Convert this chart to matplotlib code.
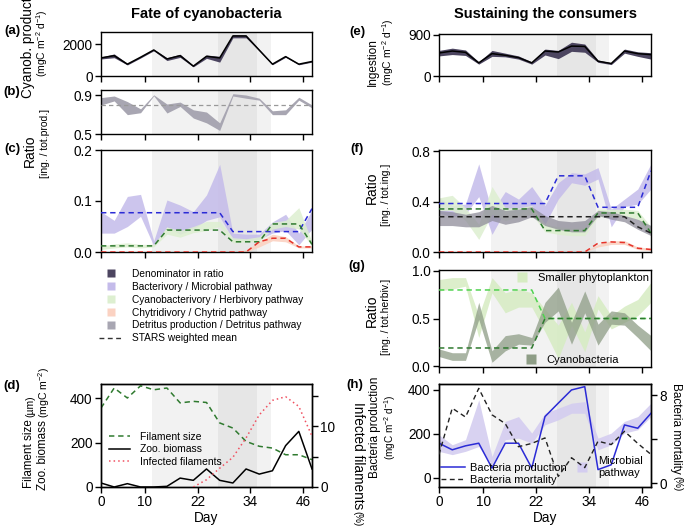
import matplotlib
matplotlib.use('Agg')
import matplotlib.pyplot as plt
from matplotlib.lines import Line2D

plt.rcParams['font.family'] = ['Liberation Sans', 'DejaVu Sans']
plt.rcParams['mathtext.fontset'] = 'custom'
plt.rcParams['mathtext.rm'] = 'Liberation Sans'
plt.rcParams['mathtext.it'] = 'Liberation Sans:italic'
plt.rcParams['mathtext.default'] = 'regular'
plt.rcParams['font.size'] = 9.5
plt.rcParams['axes.linewidth'] = 1.0

# ---------------- data ----------------
days = [0, 3, 6, 9, 12, 15, 18, 21, 24, 27, 30, 33, 36, 39, 42, 45, 48]
day_ticks = [0, 10, 22, 34, 46]
period_light = (11.7, 38.6)
period_dark = (26.7, 35.5)

# (a) cyanobacteria production
cyano_prod = [1150, 1290, 750, 1190, 1650, 1080, 1290, 625, 1250, 1146, 2540, 2540, 1640, 750, 1230, 750, 920]
cyano_lo = [1080, 1160, 700, 1140, 1600, 980, 1180, 580, 1120, 880, 2420, 2420, 1600, 710, 1190, 710, 880]
cyano_hi = [1200, 1400, 800, 1240, 1700, 1160, 1380, 670, 1330, 1250, 2620, 2600, 1690, 790, 1270, 790, 960]

# (b) detritus ratio
detr_lo = [0.80, 0.842, 0.70, 0.72, 0.895, 0.717, 0.785, 0.665, 0.615, 0.537, 0.893, 0.87, 0.85, 0.70, 0.70, 0.85, 0.77]
detr_hi = [0.876, 0.893, 0.835, 0.76, 0.905, 0.81, 0.83, 0.75, 0.727, 0.615, 0.917, 0.903, 0.87, 0.74, 0.75, 0.88, 0.80]
detr_stars = 0.8

# (c) ratios ing./tot.prod.
c_bact_lo = [0.037, 0.037, 0.05, 0.07, 0.012, 0.049, 0.035, 0.045, 0.062, 0.069, 0.025, 0.022, 0.025, 0.037, 0.042, 0.014, 0.045]
c_bact_hi = [0.079, 0.062, 0.109, 0.113, 0.022, 0.102, 0.092, 0.079, 0.112, 0.172, 0.037, 0.035, 0.035, 0.059, 0.074, 0.037, 0.082]
c_herb_lo = [0.005, 0.008, 0.01, 0.008, 0.01, 0.035, 0.029, 0.038, 0.042, 0.05, 0.018, 0.02, 0.02, 0.045, 0.05, 0.045, 0.012]
c_herb_hi = [0.012, 0.016, 0.018, 0.015, 0.015, 0.049, 0.042, 0.05, 0.06, 0.06, 0.028, 0.026, 0.03, 0.058, 0.062, 0.087, 0.02]
c_chyt_lo = [0, 0, 0, 0, 0, 0, 0, 0, 0, 0, 0, 0, 0.01, 0.022, 0.02, 0.008, 0.008]
c_chyt_hi = [0, 0, 0, 0, 0, 0, 0, 0, 0, 0, 0, 0.004, 0.02, 0.035, 0.03, 0.012, 0.012]
c_bact_stars = [0.077, 0.077, 0.077, 0.077, 0.077, 0.077, 0.077, 0.077, 0.077, 0.077, 0.04, 0.04, 0.04, 0.04, 0.04, 0.04, 0.085]
c_herb_stars = [0.012, 0.012, 0.012, 0.012, 0.012, 0.043, 0.043, 0.043, 0.043, 0.043, 0.02, 0.02, 0.02, 0.055, 0.055, 0.055, 0.015]
c_chyt_stars = [0, 0, 0, 0, 0, 0, 0, 0, 0, 0, 0, 0, 0.02, 0.027, 0.027, 0.01, 0.01]

# (d) filament size, zooplankton biomass, infected filaments
filament_size = [355, 445, 400, 455, 437, 445, 378, 385, 380, 288, 265, 205, 183, 175, 145, 145, 123]
zoo_biomass = [18, 0, 15, 0, 0, 3, 40, 30, 81, 30, 18, 81, 58, 73, 186, 250, 81]
infect_days = [21, 24, 27, 30, 33, 36, 39, 42, 45, 48]
infected = [0, 1.2, 3.1, 4.9, 8.1, 11.9, 14.3, 14.9, 13.3, 8.4]

# (e) ingestion
ingestion = [504, 547, 518, 288, 490, 454, 403, 288, 547, 526, 655, 648, 324, 274, 547, 490, 468]
ingest_lo = [440, 470, 450, 260, 430, 420, 370, 260, 460, 380, 540, 520, 300, 250, 500, 430, 370]
ingest_hi = [560, 610, 570, 310, 560, 500, 440, 310, 590, 560, 740, 700, 350, 290, 590, 530, 510]

# (f) ratios ing./tot.ing.
f_bact_lo = [0.31, 0.28, 0.30, 0.44, 0.14, 0.33, 0.30, 0.36, 0.22, 0.42, 0.55, 0.53, 0.58, 0.20, 0.36, 0.38, 0.50]
f_bact_hi = [0.43, 0.37, 0.38, 0.70, 0.32, 0.48, 0.42, 0.52, 0.37, 0.55, 0.63, 0.62, 0.67, 0.34, 0.42, 0.50, 0.70]
f_herb_lo = [0.33, 0.33, 0.25, 0.10, 0.30, 0.25, 0.28, 0.30, 0.16, 0.14, 0.13, 0.13, 0.28, 0.28, 0.28, 0.26, 0.13]
f_herb_hi = [0.43, 0.45, 0.35, 0.22, 0.52, 0.35, 0.35, 0.37, 0.22, 0.20, 0.19, 0.19, 0.34, 0.34, 0.34, 0.33, 0.20]
f_detr_lo = [0.21, 0.21, 0.20, 0.20, 0.25, 0.22, 0.24, 0.28, 0.21, 0.18, 0.16, 0.16, 0.29, 0.26, 0.24, 0.18, 0.13]
f_detr_hi = [0.33, 0.32, 0.30, 0.32, 0.37, 0.33, 0.34, 0.36, 0.29, 0.25, 0.24, 0.25, 0.33, 0.32, 0.29, 0.26, 0.21]
f_chyt_lo = [0, 0, 0, 0, 0, 0, 0, 0, 0, 0, 0, 0, 0.04, 0.06, 0.06, 0.02, 0.01]
f_chyt_hi = [0, 0, 0, 0, 0, 0, 0, 0, 0, 0, 0, 0.005, 0.06, 0.09, 0.09, 0.04, 0.03]
f_bact_stars = [0.385, 0.385, 0.385, 0.385, 0.385, 0.385, 0.385, 0.385, 0.385, 0.605, 0.605, 0.605, 0.355, 0.355, 0.355, 0.355, 0.645]
f_herb_stars = [0.342, 0.342, 0.342, 0.342, 0.342, 0.342, 0.342, 0.342, 0.17, 0.17, 0.17, 0.17, 0.31, 0.31, 0.31, 0.31, 0.15]
f_detr_stars = [0.28, 0.28, 0.28, 0.28, 0.28, 0.28, 0.28, 0.28, 0.28, 0.28, 0.28, 0.28, 0.28, 0.28, 0.28, 0.2, 0.15]
f_chyt_stars = [0, 0, 0, 0, 0, 0, 0, 0, 0, 0, 0, 0, 0.07, 0.08, 0.075, 0.03, 0.02]

# (g) ratios ing./tot.herbiv.
g_small_lo = [0.79, 0.81, 0.84, 0.30, 0.77, 0.56, 0.62, 0.62, 0.36, 0.08, 0.43, 0.15, 0.60, 0.39, 0.46, 0.53, 0.67]
g_small_hi = [0.91, 0.93, 0.93, 0.53, 0.93, 0.77, 0.81, 0.77, 0.60, 0.43, 0.67, 0.36, 0.74, 0.53, 0.63, 0.70, 0.88]
g_cyano_lo = [0.10, 0.06, 0.06, 0.49, 0.04, 0.16, 0.23, 0.22, 0.46, 0.58, 0.23, 0.56, 0.22, 0.44, 0.43, 0.30, 0.16]
g_cyano_hi = [0.18, 0.14, 0.14, 0.67, 0.16, 0.32, 0.34, 0.30, 0.67, 0.83, 0.46, 0.79, 0.44, 0.58, 0.56, 0.43, 0.32]
g_small_stars = [0.80, 0.80, 0.80, 0.80, 0.80, 0.80, 0.80, 0.80, 0.50, 0.50, 0.50, 0.50, 0.50, 0.50, 0.50, 0.50, 0.50]
g_cyano_stars = [0.19, 0.19, 0.19, 0.19, 0.19, 0.19, 0.19, 0.19, 0.50, 0.50, 0.50, 0.50, 0.50, 0.50, 0.50, 0.50, 0.50]

# (h) bacteria production, microbial pathway, bacteria mortality
bact_prod = [158, 128, 146, 158, 45, 158, 158, 45, 279, 340, 400, 415, 38, 60, 241, 226, 294]
microb_lo = [121, 106, 121, 143, 60, 174, 181, 158, 242, 264, 294, 294, 128, 151, 204, 219, 279]
microb_hi = [196, 151, 174, 355, 98, 257, 279, 204, 294, 317, 340, 347, 181, 204, 257, 279, 340]
bact_mort = [2.6, 6.8, 6.0, 8.6, 6.2, 5.4, 3.3, 3.6, 4.1, 0.6, 2.3, 1.4, 3.8, 3.5, 4.7, 3.6, 2.6]

# ---------------- styles ----------------
W, H = 685, 528
C_DENOM = '#4c4560'
C_BACT = '#c4bbea'
C_HERB = '#ddefd0'
C_CHYT = '#fbd2c2'
C_DETR = '#a8a6b2'
C_BLUE = '#2b2bd6'
C_DGREEN = '#2f7a2f'
C_RED = '#e6332a'
C_LGREEN = '#4fd24f'
C_SMALL = '#d6ecc2'
C_CYANO = '#8e9d86'
C_MICROB = '#d4cdf0'
SH_LIGHT = '#f2f2f2'
SH_DARK = '#e6e6e6'
TICK_FS = 9.8

fig = plt.figure(figsize=(W / 100, H / 100), dpi=100)
renderer = fig.canvas.get_renderer()


def ax_at(x0, y0, x1, y1):
    return fig.add_axes([x0 / W, 1 - y1 / H, (x1 - x0) / W, (y1 - y0) / H])


def style(ax, labels=False):
    ax.axvspan(*period_light, color=SH_LIGHT, lw=0, zorder=0)
    ax.axvspan(*period_dark, color=SH_DARK, lw=0, zorder=0)
    ax.set_xlim(0, 48)
    ax.set_xticks(day_ticks)
    ax.tick_params(direction='out', length=4, width=1, labelsize=TICK_FS, pad=2)
    if not labels:
        ax.tick_params(labelbottom=False)
    else:
        ax.set_xlabel('Day', fontsize=TICK_FS, labelpad=1)


def vtext(x, y, s, size, rot=90, va='bottom', **kw):
    return fig.text(x / W, 1 - y / H, s, rotation=rot, fontsize=size, ha='center', va=va, **kw)


def chain(x, y, parts, rot=90, gap=2):
    """Place rotated text pieces one after another along the reading direction."""
    for s, size, dx in parts:
        if rot == 90:
            t = vtext(x + dx, y, s, size, rot=90, va='bottom')
            bb = t.get_window_extent(renderer)
            y = H - bb.y1 - gap
        else:
            t = vtext(x + dx, y, s, size, rot=270, va='top')
            bb = t.get_window_extent(renderer)
            y = H - bb.y0 + gap


dash = (0, (3.5, 2.5))

# ---------- (a) ----------
ax = ax_at(101, 32, 312, 76)
style(ax)
ax.fill_between(days, cyano_lo, cyano_hi, color=C_DENOM, lw=0, zorder=2)
ax.plot(days, cyano_prod, color='black', lw=1.1, zorder=3)
ax.set_ylim(0, 2790)
ax.set_yticks([0, 2000])

# ---------- (b) ----------
ax = ax_at(101, 90, 312, 134)
style(ax)
ax.fill_between(days, detr_lo, detr_hi, color=C_DETR, lw=0, zorder=2)
ax.axhline(detr_stars, color='#999999', lw=0.9, ls=dash, zorder=3)
ax.set_ylim(0.5, 0.955)
ax.set_yticks([0.5, 0.9])

# ---------- (c) ----------
ax = ax_at(101, 150, 312, 252)
style(ax)
ax.fill_between(days, c_bact_lo, c_bact_hi, color=C_BACT, lw=0, alpha=0.85, zorder=2)
ax.fill_between(days, c_herb_lo, c_herb_hi, color=C_HERB, lw=0, alpha=0.85, zorder=2)
ax.fill_between(days, c_chyt_lo, c_chyt_hi, color=C_CHYT, lw=0, alpha=0.9, zorder=2)
ax.plot(days, c_bact_stars, color=C_BLUE, lw=1.1, ls=dash, zorder=3)
ax.plot(days, c_herb_stars, color=C_DGREEN, lw=1.1, ls=dash, zorder=3)
ax.plot(days, c_chyt_stars, color=C_RED, lw=1.1, ls=dash, zorder=3)
ax.set_ylim(0, 0.2)
ax.set_yticks([0, 0.1, 0.2])
ax.set_yticklabels(['0.0', '0.1', '0.2'])

# ---------- left legend ----------
leg_handles = [
    Line2D([], [], ls='none', marker='s', ms=6, mfc=C_DENOM, mec='none'),
    Line2D([], [], ls='none', marker='s', ms=6, mfc=C_BACT, mec='none'),
    Line2D([], [], ls='none', marker='s', ms=6, mfc=C_HERB, mec='none'),
    Line2D([], [], ls='none', marker='s', ms=6, mfc=C_CHYT, mec='none'),
    Line2D([], [], ls='none', marker='s', ms=6, mfc=C_DETR, mec='none'),
    Line2D([], [], color='#333333', lw=1, ls=dash),
]
leg_labels = ['Denominator in ratio', 'Bacterivory / Microbial pathway',
              'Cyanobacterivory / Herbivory pathway', 'Chytridivory / Chytrid pathway',
              'Detritus production / Detritus pathway', 'STARS weighted mean']
fig.legend(leg_handles, leg_labels, loc='upper left', bbox_to_anchor=(99 / W, 1 - 269 / H),
           frameon=False, fontsize=7.3, handlelength=2.4, handletextpad=0.9,
           labelspacing=0.28, borderpad=0, borderaxespad=0)

# ---------- (d) ----------
ax = ax_at(101, 384, 312, 487)
style(ax, labels=True)
ax.plot(days, filament_size, color=C_DGREEN, lw=1.1, ls=dash, zorder=3)
ax.plot(days, zoo_biomass, color='black', lw=1.1, zorder=3)
ax.set_ylim(0, 463)
ax.set_yticks([0, 200, 400])
ax2 = ax.twinx()
ax2.plot(infect_days, infected, color='#f05060', lw=1.1, ls=(0, (1, 2)), zorder=3)
ax2.set_ylim(0, 17)
ax2.set_yticks([0, 5, 10, 15])
ax2.set_yticklabels(['0', '', '10', ''])
ax2.tick_params(direction='out', length=4, width=1, labelsize=TICK_FS, pad=2)
ax.legend([Line2D([], [], color=C_DGREEN, lw=1.1, ls=dash),
           Line2D([], [], color='black', lw=1.1),
           Line2D([], [], color='#f05060', lw=1.1, ls=(0, (1, 2)))],
          ['Filament size', 'Zoo. biomass', 'Infected filaments'],
          loc='upper left', bbox_to_anchor=(0.04, 0.535), frameon=False, fontsize=7.5,
          handlelength=2.0, handletextpad=0.9, labelspacing=0.25, borderpad=0, borderaxespad=0)

# ---------- (e) ----------
ax = ax_at(439, 34, 651, 76)
style(ax)
ax.fill_between(days, ingest_lo, ingest_hi, color=C_DENOM, lw=0, zorder=2)
ax.plot(days, ingestion, color='black', lw=1.1, zorder=3)
ax.set_ylim(0, 920)
ax.set_yticks([0, 900])

# ---------- (f) ----------
ax = ax_at(439, 150, 651, 252)
style(ax)
ax.fill_between(days, f_bact_lo, f_bact_hi, color=C_BACT, lw=0, alpha=0.85, zorder=2)
ax.fill_between(days, f_herb_lo, f_herb_hi, color=C_HERB, lw=0, alpha=0.85, zorder=2)
ax.fill_between(days, f_detr_lo, f_detr_hi, color='#8f8d9a', lw=0, alpha=0.75, zorder=2)
ax.fill_between(days, f_chyt_lo, f_chyt_hi, color=C_CHYT, lw=0, alpha=0.9, zorder=2)
ax.plot(days, f_bact_stars, color=C_BLUE, lw=1.1, ls=dash, zorder=3)
ax.plot(days, f_herb_stars, color=C_DGREEN, lw=1.1, ls=dash, zorder=3)
ax.plot(days, f_detr_stars, color='#222222', lw=1.1, ls=dash, zorder=3)
ax.plot(days, f_chyt_stars, color=C_RED, lw=1.1, ls=dash, zorder=3)
ax.set_ylim(0, 0.81)
ax.set_yticks([0, 0.4, 0.8])
ax.set_yticklabels(['0.0', '0.4', '0.8'])

# ---------- (g) ----------
ax = ax_at(439, 270, 651, 367)
style(ax)
ax.fill_between(days, g_small_lo, g_small_hi, color=C_SMALL, lw=0, alpha=0.85, zorder=2)
ax.fill_between(days, g_cyano_lo, g_cyano_hi, color=C_CYANO, lw=0, alpha=0.75, zorder=2)
ax.plot(days, g_small_stars, color=C_LGREEN, lw=1.1, ls=dash, zorder=3)
ax.plot(days, g_cyano_stars, color=C_DGREEN, lw=1.1, ls=dash, zorder=3)
ax.set_ylim(-0.01, 1.01)
ax.set_yticks([0, 0.5, 1.0])
ax.set_yticklabels(['0.0', '0.5', '1.0'])
lg1 = ax.legend([Line2D([], [], ls='none', marker='s', ms=6.5, mfc=C_SMALL, mec='none')],
                ['Smaller phytoplankton'], loc='upper right', bbox_to_anchor=(0.99, 0.97),
                frameon=False, fontsize=8, handletextpad=0.4, borderpad=0, borderaxespad=0)
ax.add_artist(lg1)
ax.legend([Line2D([], [], ls='none', marker='s', ms=6.5, mfc=C_CYANO, mec='none')],
          ['Cyanobacteria'], loc='lower left', bbox_to_anchor=(0.38, 0.02),
          frameon=False, fontsize=8, handletextpad=0.4, borderpad=0, borderaxespad=0)

# ---------- (h) ----------
ax = ax_at(439, 384, 651, 487)
style(ax, labels=True)
ax.fill_between(days, microb_lo, microb_hi, color=C_MICROB, lw=0, alpha=0.9, zorder=2)
ax.plot(days, bact_prod, color=C_BLUE, lw=1.1, zorder=3)
ax.set_ylim(-41, 427)
ax.set_yticks([0, 200, 400])
ax3 = ax.twinx()
ax3.plot(days, bact_mort, color='#222222', lw=1.0, ls=dash, zorder=3)
ax3.set_ylim(-0.36, 9.0)
ax3.set_yticks([0, 4, 8])
ax3.set_yticklabels(['0', '', '8'])
ax3.tick_params(direction='out', length=4, width=1, labelsize=TICK_FS, pad=2)
ax.legend([Line2D([], [], color=C_BLUE, lw=1.1),
           Line2D([], [], color='#222222', lw=1.0, ls=dash),
           Line2D([], [], ls='none', marker='s', ms=7, mfc=C_MICROB, mec='none')],
          ['Bacteria production', 'Bacteria mortality', 'Microbial\npathway'],
          loc='lower left', bbox_to_anchor=(0.0, 0.0), ncol=2, frameon=False, fontsize=8.0,
          handlelength=2.2, handletextpad=0.4, labelspacing=0.2, columnspacing=0.3,
          borderpad=0, borderaxespad=0.15)

# ---------- titles / panel letters ----------
fig.text(206 / W, 1 - 14 / H, 'Fate of cyanobacteria', fontsize=10.5, fontweight='bold', ha='center', va='center')
fig.text(545 / W, 1 - 14 / H, 'Sustaining the consumers', fontsize=10.5, fontweight='bold', ha='center', va='center')
for lab, x, y in [('(a)', 12, 31), ('(b)', 12, 92), ('(c)', 12, 149), ('(d)', 12, 386),
                  ('(e)', 357, 32), ('(f)', 357, 149), ('(g)', 357, 266), ('(h)', 355, 385)]:
    fig.text(x / W, 1 - y / H, lab, fontsize=9.5, fontweight='bold', ha='center', va='center')

# ---------- axis labels ----------
chain(28, 98, [('Cyanob. production', 9.8, 0)])
vtext(42, 43, '(mgC m$^{-2}$ d$^{-1}$)', 7.5, va='center')
vtext(30, 151, 'Ratio', 10, va='center')
vtext(45, 143, '[ing. / tot.prod.]', 7.5, va='center')
chain(29, 488, [('Filament size', 8.4, 0), ('(µm)', 7.4, 1)])
chain(43, 490, [('Zoo. biomass', 8.4, 0), ('(mgC m$^{-2}$)', 7.6, 1)])
chain(358, 402, [('Infected filaments', 9.8, 0), ('(%)', 7, -1)], rot=270)
vtext(373, 62, 'Ingestion', 8.5, va='center')
vtext(388, 52, '(mgC m$^{-2}$ d$^{-1}$)', 7.5, va='center')
vtext(372, 188, 'Ratio', 10, va='center')
vtext(386, 195, '[ing. / tot.ing.]', 7.5, va='center')
vtext(372, 311, 'Ratio', 10, va='center')
vtext(386, 317, '[ing. / tot.herbiv.]', 7.5, va='center')
chain(375, 478, [('Bacteria production', 8.5, 0)])
vtext(390, 427, '(mgC m$^{-2}$ d$^{-1}$)', 7.2, va='center')
chain(676, 383, [('Bacteria mortality', 8.5, 0), ('(%)', 7, 1)], rot=270)

fig.savefig('out.png', dpi=100)
